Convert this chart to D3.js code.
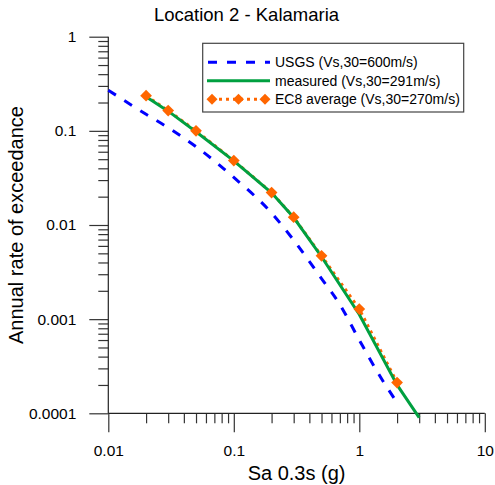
<!DOCTYPE html>
<html>
<head>
<meta charset="utf-8">
<script src="https://cdn.jsdelivr.net/npm/d3@7"></script>
<style>
  body { margin: 0; background: #fff; }
  text { font-family: "Liberation Sans", Arial, sans-serif; }
</style>
</head>
<body>
<div id="chart"></div>
<script>
const W = 495, H = 485;

// USGS curve (Vs,30=600m/s)
const usgsX = [0.01, 0.02, 0.03, 0.05, 0.1, 0.2, 0.3, 0.5, 0.7, 1, 1.5, 2];
const usgsY = [0.27, 0.15, 0.108, 0.068, 0.032, 0.0134, 0.0069, 0.0027, 0.00143, 0.0006, 0.000234, 0.00013];

// measured (Vs,30=291m/s)
const measX = [0.02, 0.03, 0.05, 0.1, 0.2, 0.3, 0.5, 1, 2, 3];
const measY = [0.23, 0.162, 0.098, 0.048, 0.022, 0.012, 0.0046, 0.00112, 0.0002, 0.00009];

// EC8 average (Vs,30=270m/s)
const ec8X = [0.02, 0.03, 0.05, 0.1, 0.2, 0.3, 0.5, 1, 2];
const ec8Y = [0.236, 0.164, 0.1, 0.0483, 0.0221, 0.0121, 0.0047, 0.00128, 0.000212];

const xMajor = [0.01, 0.1, 1, 10];
const yMajor = [1, 0.1, 0.01, 0.001, 0.0001];
const xLabels = ["0.01", "0.1", "1", "10"];
const yLabels = ["1", "0.1", "0.01", "0.001", "0.0001"];

const seriesNames = ["USGS (Vs,30=600m/s)", "measured (Vs,30=291m/s)", "EC8 average (Vs,30=270m/s)"];

const blue = "#0000ff", green = "#00a040", orange = "#ff6600";

const margin = {top: 36.7, left: 108.3, right: 10, bottom: 72};
const plotW = 376.5, plotH = 376.6;

const svg = d3.select("#chart").append("svg")
  .attr("width", W).attr("height", H);

const g = svg.append("g")
  .attr("transform", "translate(" + margin.left + "," + margin.top + ")");

const x = d3.scaleLog().domain([0.01, 10]).range([0, plotW]);
const y = d3.scaleLog().domain([0.0001, 1]).range([plotH, 0]);

// minor ticks 2..9 in each decade
function minors(lo, hi) {
  const out = [];
  for (let e = lo; e < hi; e++) {
    for (let m = 2; m <= 9; m++) out.push(m * Math.pow(10, e));
  }
  return out;
}

// Axes
const xAxisMinor = g.append("g")
  .attr("transform", "translate(0," + plotH + ")")
  .call(d3.axisBottom(x).tickValues(minors(-2, 1)).tickSize(10).tickFormat(""));
const xAxis = g.append("g")
  .attr("transform", "translate(0," + plotH + ")")
  .call(d3.axisBottom(x).tickValues(xMajor).tickSize(19).tickPadding(13)
    .tickFormat((d, i) => xLabels[i]));

const yAxisMinor = g.append("g")
  .call(d3.axisLeft(y).tickValues(minors(-4, 0)).tickSize(10).tickFormat(""));
const yAxis = g.append("g")
  .call(d3.axisLeft(y).tickValues(yMajor).tickSize(19).tickPadding(13)
    .tickFormat((d, i) => yLabels[i]));

g.selectAll(".tick line").attr("stroke", "#333").attr("stroke-width", 1.2);
g.selectAll(".tick text").attr("font-size", "15.5px").attr("fill", "#000")
  .attr("font-family", "'Liberation Sans', Arial, sans-serif");
// plain axis lines without end stubs
[xAxisMinor, xAxis, yAxisMinor, yAxis].forEach(a => a.select(".domain").remove());
g.append("line").attr("x1", 0).attr("x2", plotW).attr("y1", plotH).attr("y2", plotH)
  .attr("stroke", "#222").attr("stroke-width", 1.2);
g.append("line").attr("x1", 0).attr("x2", 0).attr("y1", 0).attr("y2", plotH)
  .attr("stroke", "#222").attr("stroke-width", 1.2);

// Lines
const smooth = d3.line()
  .x(d => x(d[0]))
  .y(d => y(d[1]))
  .curve(d3.curveMonotoneX);
const straight = d3.line()
  .x(d => x(d[0]))
  .y(d => y(d[1]));

const usgs = usgsX.map((v, i) => [v, usgsY[i]]);
const meas = measX.map((v, i) => [v, measY[i]]);
const ec8 = ec8X.map((v, i) => [v, ec8Y[i]]);

g.append("path").datum(usgs)
  .attr("d", smooth)
  .attr("fill", "none").attr("stroke", blue).attr("stroke-width", 3)
  .attr("stroke-dasharray", "9,10");

g.append("path").datum(ec8)
  .attr("d", straight)
  .attr("fill", "none").attr("stroke", orange).attr("stroke-width", 3)
  .attr("stroke-dasharray", "3,4");

g.append("path").datum(meas)
  .attr("d", straight)
  .attr("fill", "none").attr("stroke", green).attr("stroke-width", 3);

const diamond = d3.symbol().type(d3.symbolDiamond2).size(88);
g.selectAll(".ec8pt").data(ec8).enter().append("path")
  .attr("class", "ec8pt")
  .attr("transform", d => "translate(" + x(d[0]) + "," + y(d[1]) + ")")
  .attr("d", diamond)
  .attr("fill", orange);

// Title and axis labels
svg.append("text")
  .attr("x", 246.5).attr("y", 21)
  .attr("text-anchor", "middle")
  .attr("font-size", "18.5px")
  .text("Location 2 - Kalamaria");

svg.append("text")
  .attr("x", margin.left + plotW / 2).attr("y", 480)
  .attr("text-anchor", "middle")
  .attr("font-size", "20px")
  .text("Sa 0.3s (g)");

svg.append("text")
  .attr("transform", "translate(23," + (margin.top + plotH / 2) + ") rotate(-90)")
  .attr("text-anchor", "middle")
  .attr("font-size", "20px")
  .text("Annual rate of exceedance");

// Legend
const lg = svg.append("g");
lg.append("rect")
  .attr("x", 202.7).attr("y", 43.3).attr("width", 261).attr("height", 68.7)
  .attr("fill", "#fff").attr("stroke", "#444").attr("stroke-width", 1.2);

const rowY = [62.3, 80.8, 99.3];
const styles = [
  {stroke: blue, dash: "9,10", x1: 208, x2: 270},
  {stroke: green, dash: null, x1: 207, x2: 270},
  {stroke: orange, dash: "3,4", x1: 212, x2: 265}
];
seriesNames.forEach((name, i) => {
  lg.append("line")
    .attr("x1", styles[i].x1).attr("x2", styles[i].x2)
    .attr("y1", rowY[i]).attr("y2", rowY[i])
    .attr("stroke", styles[i].stroke).attr("stroke-width", 3)
    .attr("stroke-dasharray", styles[i].dash);
  lg.append("text")
    .attr("x", 275).attr("y", rowY[i]).attr("dy", "0.36em")
    .attr("font-size", "14px")
    .text(name);
});
[212, 238.5, 265].forEach(px => {
  lg.append("path")
    .attr("transform", "translate(" + px + "," + rowY[2] + ")")
    .attr("d", d3.symbol().type(d3.symbolDiamond2).size(78))
    .attr("fill", orange);
});
</script>
</body>
</html>
